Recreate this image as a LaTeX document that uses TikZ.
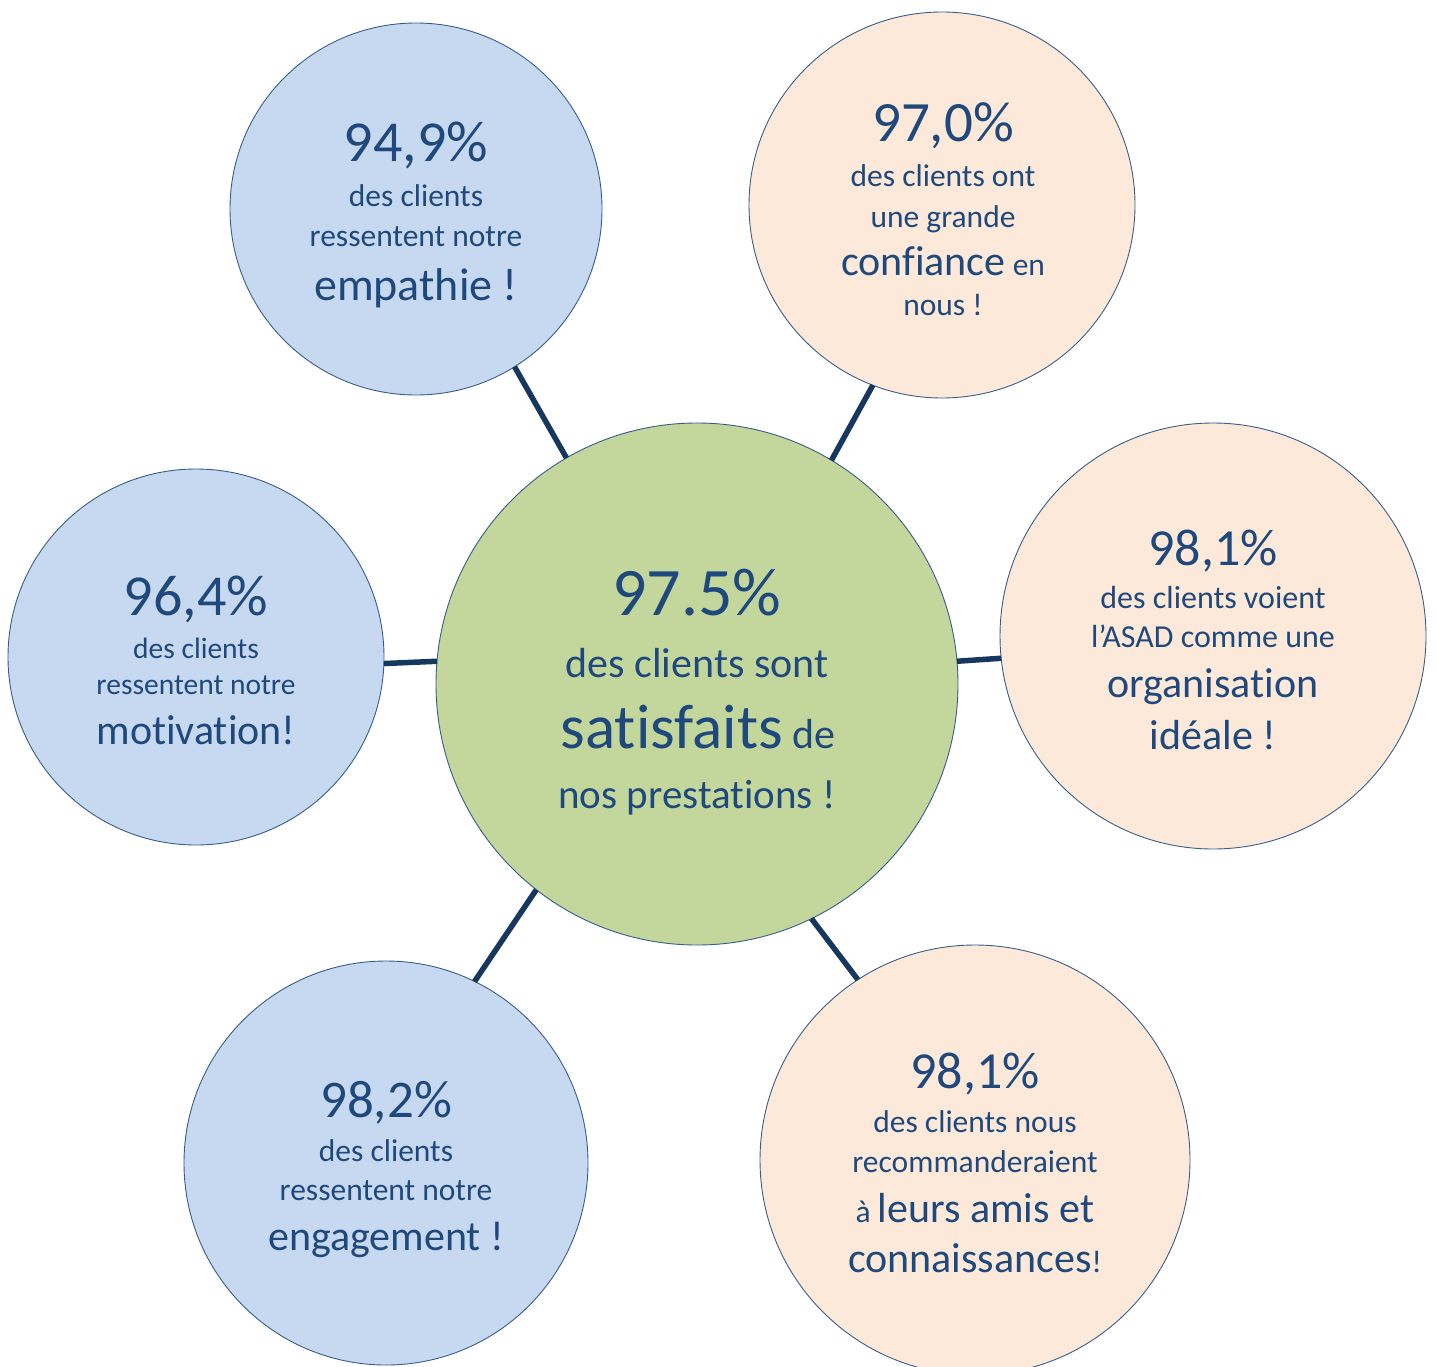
\documentclass[tikz,border=0pt]{standalone}
\usepackage{fontspec}
\setmainfont{Carlito}[RawFeature={-liga;-clig;-calt;-dlig;-rlig}]
\definecolor{bluef}{RGB}{198,217,241}
\definecolor{peachf}{RGB}{253,233,217}
\definecolor{greenf}{RGB}{195,214,155}
\definecolor{edgec}{RGB}{56,93,138}
\definecolor{linkc}{RGB}{23,55,94}
\definecolor{txtc}{RGB}{31,73,125}
\newcommand{\fs}[1]{\fontsize{#1}{#1}\selectfont}
\tikzset{
  bub/.style={circle, draw=edgec, line width=0.9pt, inner sep=0pt, outer sep=0pt, minimum size=#1},
  bluebub/.style={bub=#1, fill=bluef},
  peachbub/.style={bub=#1, fill=peachf},
  greenbub/.style={bub=#1, fill=greenf},
  link/.style={draw=linkc, line width=5.5pt},
  txt/.style={anchor=base, text=txtc, inner sep=0pt, outer sep=0pt}
}
\begin{document}
\begin{tikzpicture}[x=1pt,y=-1pt]
\useasboundingbox (0,0) rectangle (1437,1367);
% bubbles
\node[greenbub=522pt] (c) at (697,684) {};
\node[bluebub=372pt] (tl) at (416,209) {};
\node[peachbub=386pt] (tr) at (942,205) {};
\node[bluebub=376pt] (l) at (196,657) {};
\node[peachbub=426pt] (r) at (1213,636) {};
\node[bluebub=404pt] (bl) at (386,1163) {};
\node[peachbub=430pt] (br) at (975,1160) {};
% connectors
\draw[link] (c.120.4) -- (tl.302.6);
\draw[link] (c.59.8) -- (tr.249.5);
\draw[link] (c.175.8) -- (l.358.5);
\draw[link] (c.5.5) -- (r.186.2);
\draw[link] (c.232.1) -- (bl.64.9);
\draw[link] (c.296.6) -- (br.123.6);
% center text
\node[txt] (c1) at (697,615) {\fs{68}97.5\%};
\node[txt] (c2) at (697,677) {\fs{42}des clients sont};
\node[txt] (c3) at (698,748) {\fs{63}satisfaits\fs{42} de};
\node[txt] (c4) at (697,808) {\fs{41}nos prestations !};
% top-left
\node[txt] (tl1) at (416,162) {\fs{58}94,9\%};
\node[txt] (tl2) at (416,207) {\fs{31.5}des clients};
\node[txt] (tl3) at (416,246) {\fs{31.5}ressentent notre};
\node[txt] (tl4) at (416,300) {\fs{46}empathie !};
% top-right
\node[txt] (tr1) at (943,142) {\fs{57}97,0\%};
\node[txt] (tr2) at (943,187) {\fs{31.5}des clients ont};
\node[txt] (tr3) at (943,227) {\fs{31.5}une grande};
\node[txt] (tr4) at (943,275) {\fs{42}confiance\fs{31.5} en};
\node[txt] (tr5) at (943,315) {\fs{31.5}nous !};
% left
\node[txt] (l1) at (196,615) {\fs{58}96,4\%};
\node[txt] (l2) at (196,658) {\fs{29.5}des clients};
\node[txt] (l3) at (196,694) {\fs{29.5}ressentent notre};
\node[txt] (l4) at (196,744) {\fs{42}motivation!};
% right
\node[txt] (r1) at (1213,565) {\fs{52}98,1\%};
\node[txt] (r2) at (1213,608) {\fs{32}des clients voient};
\node[txt] (r3) at (1213,647) {\fs{32}l’ASAD comme une};
\node[txt] (r4) at (1213,697) {\fs{42}organisation};
\node[txt] (r5) at (1213,749) {\fs{42}idéale !};
% bottom-left
\node[txt] (bl1) at (386,1117) {\fs{53}98,2\%};
\node[txt] (bl2) at (386,1161) {\fs{31.5}des clients};
\node[txt] (bl3) at (386,1200) {\fs{31.5}ressentent notre};
\node[txt] (bl4) at (386,1250) {\fs{42}engagement !};
% bottom-right
\node[txt] (br1) at (975,1088) {\fs{52}98,1\%};
\node[txt] (br2) at (975,1132) {\fs{31.5}des clients nous};
\node[txt] (br3) at (975,1172) {\fs{31.5}recommanderaient};
\node[txt] (br4) at (975,1222) {\fs{31.5}à \fs{42}leurs amis et};
\node[txt] (br5) at (975,1272) {\fs{42}connaissances\fs{31.5}!};
\end{tikzpicture}
\end{document}
